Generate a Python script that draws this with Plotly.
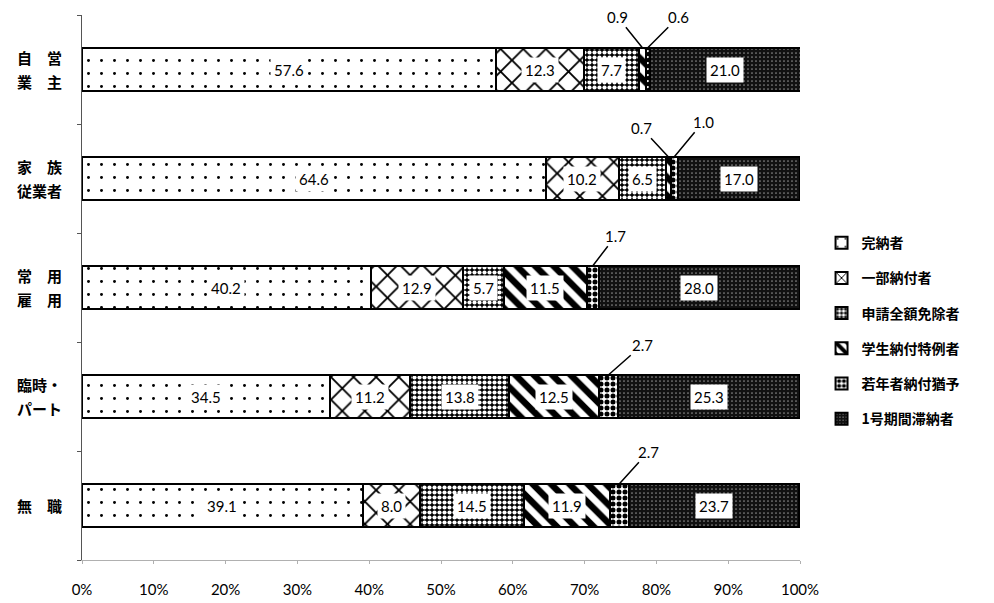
import plotly.graph_objects as go

# 職業別 国民年金保険料の納付状況 (%)
categories = ["自営業主", "家族従業者", "常用雇用", "臨時・パート", "無職"]
cat_lines = [("自　営", "業　主"), ("家　族", "従業者"), ("常　用", "雇　用"), ("臨時・", "パート"), ("無　職",)]

kannou = [57.6, 64.6, 40.2, 34.5, 39.1]     # 完納者
ichibu = [12.3, 10.2, 12.9, 11.2, 8.0]      # 一部納付者
menjo = [7.7, 6.5, 5.7, 13.8, 14.5]         # 申請全額免除者
gakusei = [0.9, 0.7, 11.5, 12.5, 11.9]      # 学生納付特例者
jakunen = [0.6, 1.0, 1.7, 2.7, 2.7]         # 若年者納付猶予
tainou = [21.0, 17.0, 28.0, 25.3, 23.7]     # 1号期間滞納者

series_names = ["完納者", "一部納付者", "申請全額免除者", "学生納付特例者", "若年者納付猶予", "1号期間滞納者"]
series_vals = [kannou, ichibu, menjo, gakusei, jakunen, tainou]

x_ticks = [0, 10, 20, 30, 40, 50, 60, 70, 80, 90, 100]
x_ticktext = ["0%", "10%", "20%", "30%", "40%", "50%", "60%", "70%", "80%", "90%", "100%"]

# hatch styles
patterns = [
    dict(shape=".", fgcolor="black", bgcolor="white", size=13, solidity=0.04, fgopacity=1),
    dict(shape="x", fgcolor="black", bgcolor="white", size=16, solidity=0.22, fgopacity=1),
    dict(shape=".", fgcolor="white", bgcolor="black", size=5, solidity=0.55, fgopacity=1),
    dict(shape="\\", fgcolor="black", bgcolor="white", size=13, solidity=0.5, fgopacity=1),
    dict(shape=".", fgcolor="black", bgcolor="white", size=6, solidity=0.55, fgopacity=1),
    dict(shape=".", fgcolor="#8a8a8a", bgcolor="#111111", size=4, solidity=0.15, fgopacity=1),
]

# pixel offsets of the call-out labels for the thin segments
callouts = {
    (0, 3): (-25, -31), (0, 4): (31, -31),
    (1, 3): (-27, -29), (1, 4): (29, -35),
    (2, 4): (23, -30),
    (3, 4): (34, -30),
    (4, 4): (29, -32),
}

NUMFONT = "Lato, Noto Sans CJK JP, sans-serif"
JPFONT = "Noto Sans CJK JP, sans-serif"

fig = go.Figure()
for k, (name, vals) in enumerate(zip(series_names, series_vals)):
    fig.add_trace(go.Bar(
        y=categories, x=vals, name=name, orientation="h",
        legendgroup=name,
        marker=dict(color="white", line=dict(color="black", width=2), pattern=patterns[k]),
        hoverinfo="x+name",
    ))

annotations = []
start = [0.0] * len(categories)
for k, vals in enumerate(series_vals):
    for i, v in enumerate(vals):
        mid = start[i] + v / 2
        if (i, k) in callouts:
            ax, ay = callouts[(i, k)]
            annotations.append(dict(
                x=mid, y=i - 0.2, text=f"{v:.1f}", showarrow=True, arrowhead=0,
                arrowwidth=1.5, arrowcolor="black", ax=ax, ay=ay, standoff=0,
                font=dict(size=15, color="black", family=NUMFONT),
            ))
        else:
            annotations.append(dict(
                x=mid, y=i, text=f"{v:.1f}", showarrow=False, bgcolor="white",
                borderpad=3, font=dict(size=15, color="black", family=NUMFONT),
            ))
        start[i] += v

# category labels (two lines, wider line spacing than tick labels allow)
for i, lines in enumerate(cat_lines):
    shifts = [0] if len(lines) == 1 else [12, -12]
    for line, sh in zip(lines, shifts):
        annotations.append(dict(
            x=0, xref="paper", xanchor="right", xshift=-18,
            y=i, yshift=sh, text=line, showarrow=False,
            font=dict(size=15, family=JPFONT, color="black", weight="bold"),
        ))

# page body adds an 8px margin, so the figure is a bit smaller than the window
fig.update_layout(
    barmode="stack",
    bargap=0.6,
    width=978, height=595,
    margin=dict(l=74, r=186, t=7, b=43),
    plot_bgcolor="white", paper_bgcolor="white",
    annotations=annotations,
    showlegend=True,
    legend=dict(
        x=1.03, y=0.42, xanchor="left", yanchor="middle",
        traceorder="grouped", tracegroupgap=14,
        font=dict(size=14, family=JPFONT, color="black", weight="bold"),
        itemwidth=30,
    ),
)
fig.update_xaxes(
    range=[0, 100], tickvals=x_ticks, ticktext=x_ticktext,
    showgrid=False, zeroline=False, automargin=False,
    showline=True, linecolor="#b0b0b0", linewidth=1,
    ticks="outside", ticklen=3, tickcolor="#b0b0b0",
    ticklabelstandoff=13,
    tickfont=dict(size=15, family=NUMFONT, color="black"),
)
fig.update_yaxes(
    type="category", categoryorder="array", categoryarray=categories,
    tickvals=categories, ticktext=[""] * len(categories),
    autorange="reversed", automargin=False,
    showgrid=False, zeroline=False,
    showline=True, linecolor="#555555", linewidth=1,
    ticks="outside", tickson="boundaries", ticklen=4, tickcolor="#555555",
)

fig.write_html("out.html")
